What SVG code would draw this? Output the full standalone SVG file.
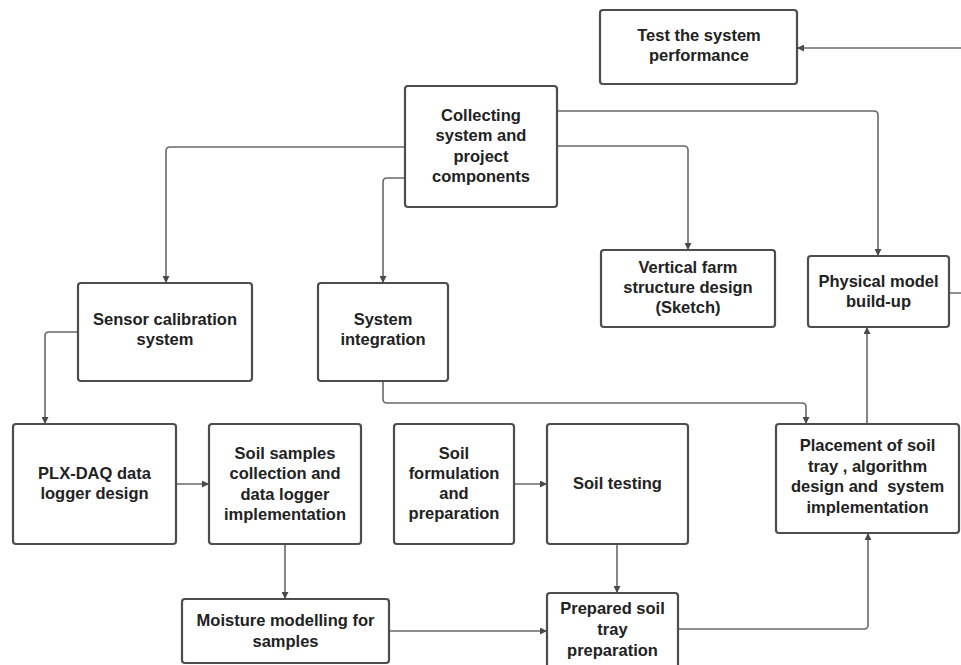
<svg xmlns="http://www.w3.org/2000/svg" width="961" height="665" viewBox="0 0 961 665">
<defs>
<marker id="ah" viewBox="0 0 10 10" refX="10" refY="5" markerWidth="7" markerHeight="7" markerUnits="userSpaceOnUse" orient="auto">
<path d="M0,0 L10,5 L0,10 z" fill="#4a4a4a"/>
</marker>
<style>
.box{fill:#fff;stroke:#4d4d4d;stroke-width:2.2}
.t{font-family:"Liberation Sans",Arial,sans-serif;font-weight:bold;font-size:16.5px;fill:#222;text-anchor:middle}
.c{fill:none;stroke:#6a6a6a;stroke-width:1.6;marker-end:url(#ah)}
</style>
</defs>
<rect width="961" height="665" fill="#fff"/>
<g id="connectors">
<path class="c" d="M405,147 H170 Q166,147 166,151 V283"/>
<path class="c" d="M405,178 H387 Q383,178 383,182 V283"/>
<path class="c" d="M557,146 H684 Q688,146 688,150 V250"/>
<path class="c" d="M557,111 H874 Q878,111 878,115 V256"/>
<path class="c" d="M78,332 H49 Q45,332 45,336 V424"/>
<path class="c" d="M176,484 H209"/>
<path class="c" d="M285,544 V599"/>
<path class="c" d="M389,631 H547"/>
<path class="c" d="M514,484 H547"/>
<path class="c" d="M617,544 V593"/>
<path class="c" d="M678,629 H864 Q868,629 868,625 V533"/>
<path class="c" d="M383,381 V399 Q383,403 387,403 H802 Q806,403 806,407 V424"/>
<path class="c" d="M867,424 V327"/>
<path class="c" d="M949,293 H968 V48 H797"/>
</g>
<g id="test">
<rect class="box" x="600" y="10" width="197" height="74" rx="3"/>
<text class="t" x="699" y="41">Test the system</text>
<text class="t" x="699" y="61">performance</text>
</g>
<g id="collecting">
<rect class="box" x="405" y="86" width="152" height="121" rx="3"/>
<text class="t" x="481" y="121">Collecting</text>
<text class="t" x="481" y="141">system and</text>
<text class="t" x="481" y="162">project</text>
<text class="t" x="481" y="182">components</text>
</g>
<g id="vertical">
<rect class="box" x="601" y="250" width="174" height="77" rx="3"/>
<text class="t" x="688" y="273">Vertical farm</text>
<text class="t" x="688" y="293">structure design</text>
<text class="t" x="688" y="313">(Sketch)</text>
</g>
<g id="physical">
<rect class="box" x="808" y="256" width="141" height="71" rx="3"/>
<text class="t" x="878.5" y="287">Physical model</text>
<text class="t" x="878.5" y="307">build-up</text>
</g>
<g id="sensor">
<rect class="box" x="78" y="283" width="174" height="98" rx="3"/>
<text class="t" x="165" y="325">Sensor calibration</text>
<text class="t" x="165" y="345">system</text>
</g>
<g id="integration">
<rect class="box" x="318" y="283" width="130" height="98" rx="3"/>
<text class="t" x="383" y="325">System</text>
<text class="t" x="383" y="345">integration</text>
</g>
<g id="plx">
<rect class="box" x="13" y="424" width="163" height="120" rx="3"/>
<text class="t" x="94.5" y="479">PLX-DAQ data</text>
<text class="t" x="94.5" y="499">logger design</text>
</g>
<g id="samples">
<rect class="box" x="209" y="424" width="152" height="120" rx="3"/>
<text class="t" x="285" y="459">Soil samples</text>
<text class="t" x="285" y="479">collection and</text>
<text class="t" x="285" y="500">data logger</text>
<text class="t" x="285" y="520">implementation</text>
</g>
<g id="formulation">
<rect class="box" x="394" y="424" width="120" height="120" rx="3"/>
<text class="t" x="454" y="459">Soil</text>
<text class="t" x="454" y="479">formulation</text>
<text class="t" x="454" y="499">and</text>
<text class="t" x="454" y="519">preparation</text>
</g>
<g id="testing">
<rect class="box" x="547" y="424" width="141" height="120" rx="3"/>
<text class="t" x="617.5" y="489">Soil testing</text>
</g>
<g id="placement">
<rect class="box" x="776" y="424" width="183" height="109" rx="3"/>
<text class="t" x="867.5" y="451">Placement of soil</text>
<text class="t" x="867.5" y="472">tray , algorithm</text>
<text class="t" x="867.5" y="492" xml:space="preserve">design and  system</text>
<text class="t" x="867.5" y="513">implementation</text>
</g>
<g id="moisture">
<rect class="box" x="182" y="599" width="207" height="64" rx="3"/>
<text class="t" x="285.5" y="626">Moisture modelling for</text>
<text class="t" x="285.5" y="647">samples</text>
</g>
<g id="prepared">
<rect class="box" x="547" y="593" width="131" height="80" rx="3"/>
<text class="t" x="612.5" y="614">Prepared soil</text>
<text class="t" x="612.5" y="635">tray</text>
<text class="t" x="612.5" y="656">preparation</text>
</g>
</svg>
